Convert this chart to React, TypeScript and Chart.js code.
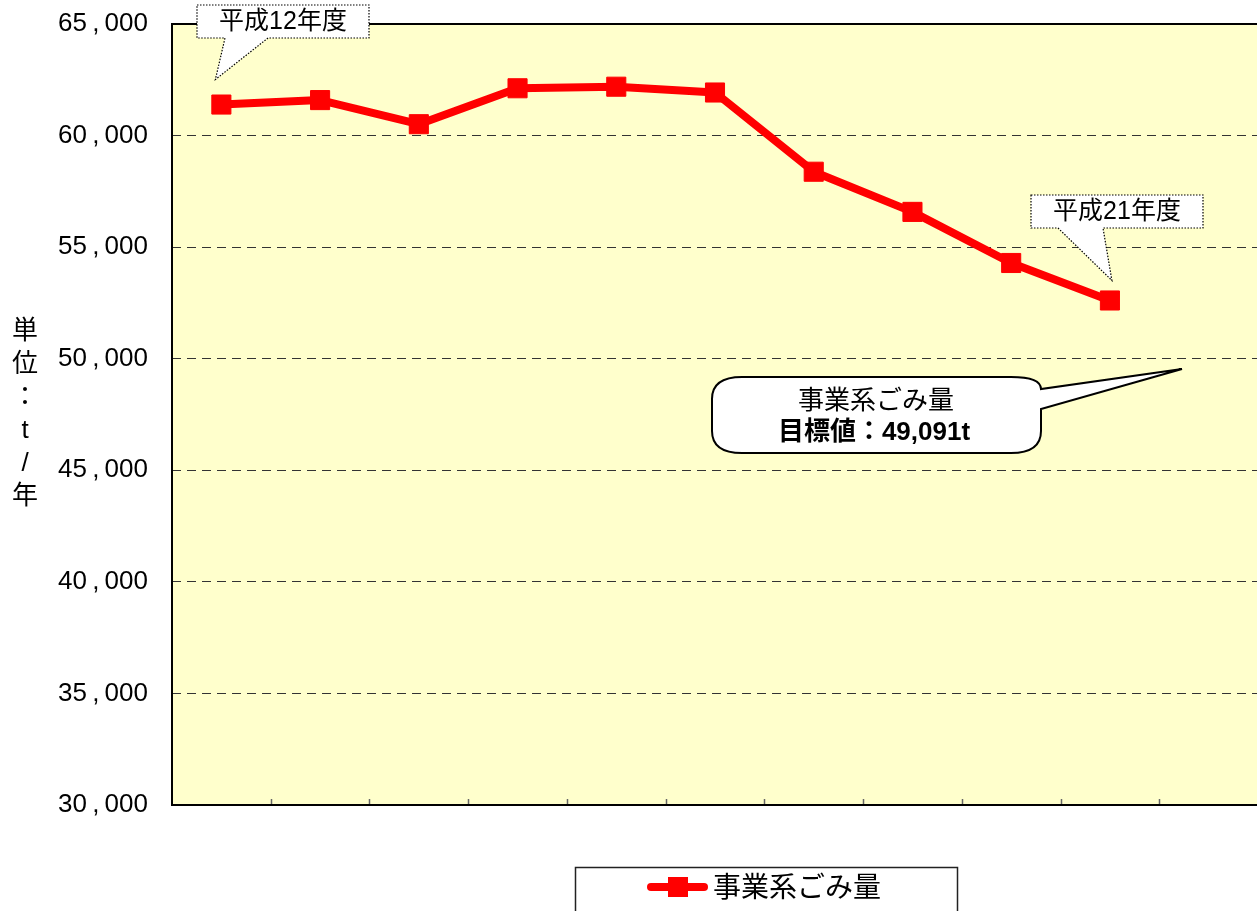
import React, { useEffect, useRef } from "react";
import { Chart, registerables } from "chart.js";

Chart.register(...registerables);

// ---- data ----
const categories = [
  "平成12年度", "平成13年度", "平成14年度", "平成15年度", "平成16年度",
  "平成17年度", "平成18年度", "平成19年度", "平成20年度", "平成21年度", "目標",
];
const wasteValues: (number | null)[] = [
  61390, 61590, 60510, 62120, 62190, 61930, 58380, 56580, 54290, 52610, null,
];
const seriesLabel = "事業系ごみ量";
const yMin = 30000;
const yMax = 65000;
const yStep = 5000;
const yTitleChars = ["単", "位", "：", "t", "/", "年"];
const startLabel = "平成12年度";
const endLabel = "平成21年度";
const targetLine1 = "事業系ごみ量";
const targetLine2 = "目標値：49,091t";

const FONT = '"Liberation Sans", "Noto Sans CJK JP", sans-serif';

const fmt = (v: number) => {
  const s = Math.round(v).toLocaleString("en-US");
  return s.replace(",", "\u2009,\u2009");
};

function calloutRect(
  ctx: CanvasRenderingContext2D,
  x1: number, y1: number, x2: number, y2: number,
  b1: number, b2: number, tip: [number, number]
) {
  ctx.save();
  ctx.beginPath();
  ctx.moveTo(x1, y1);
  ctx.lineTo(x2, y1);
  ctx.lineTo(x2, y2);
  ctx.lineTo(b2, y2);
  ctx.lineTo(tip[0], tip[1]);
  ctx.lineTo(b1, y2);
  ctx.lineTo(x1, y2);
  ctx.closePath();
  ctx.fillStyle = "#ffffff";
  ctx.fill();
  ctx.setLineDash([1.5, 1.5]);
  ctx.lineWidth = 1.2;
  ctx.strokeStyle = "#000";
  ctx.stroke();
  ctx.restore();
}

const decorPlugin = {
  id: "decor",
  beforeDraw(chart: any) {
    const { ctx, chartArea } = chart;
    ctx.save();
    ctx.fillStyle = "#FFFFCC";
    ctx.fillRect(chartArea.left, chartArea.top, chartArea.right - chartArea.left, chartArea.bottom - chartArea.top);
    ctx.restore();
  },
  afterDraw(chart: any) {
    const { ctx, chartArea } = chart;
    const xs = chart.scales.x;
    const ys = chart.scales.y;
    const { left, right, top, bottom } = chartArea;
    ctx.save();
    // inward tick marks at category boundaries
    const n = categories.length;
    const cw = (right - left) / n;
    ctx.strokeStyle = "#666";
    ctx.lineWidth = 1.5;
    for (let i = 1; i < n; i++) {
      const x = Math.round(left + i * cw) + 0.5;
      ctx.beginPath();
      ctx.moveTo(x, bottom - 6);
      ctx.lineTo(x, bottom);
      ctx.stroke();
    }
    // borders: top, left, bottom
    ctx.strokeStyle = "#000";
    ctx.lineWidth = 2;
    ctx.beginPath();
    ctx.moveTo(right + 2, top);
    ctx.lineTo(left, top);
    ctx.lineTo(left, bottom);
    ctx.lineTo(right + 2, bottom);
    ctx.stroke();

    // y title, stacked characters
    ctx.fillStyle = "#000";
    ctx.font = `26px ${FONT}`;
    ctx.textAlign = "center";
    ctx.textBaseline = "middle";
    yTitleChars.forEach((c, i) => {
      ctx.fillText(c, 25, 332 + i * 33);
    });

    // start callout
    const p0x = xs.getPixelForValue(0);
    const p0y = ys.getPixelForValue(wasteValues[0] as number);
    const t1: [number, number] = [p0x - 6, p0y - 25];
    calloutRect(ctx, 197, 5, 369, 38, 225, 268, t1);
    ctx.fillStyle = "#000";
    ctx.font = `25px ${FONT}`;
    ctx.fillText(startLabel, 283, 22);

    // end callout
    const p9x = xs.getPixelForValue(9);
    const p9y = ys.getPixelForValue(wasteValues[9] as number);
    const t2: [number, number] = [p9x + 2, p9y - 20];
    calloutRect(ctx, 1031, 195, 1203, 228, 1058, 1103, t2);
    ctx.fillStyle = "#000";
    ctx.font = `25px ${FONT}`;
    ctx.fillText(endLabel, 1117, 212);

    // target callout (rounded wedge)
    const x1 = 712, y1 = 377, x2 = 1041, y2 = 453;
    const rx = 30, ry = 22;
    const tip: [number, number] = [1182, 369];
    ctx.beginPath();
    ctx.moveTo(x1 + rx, y1);
    ctx.lineTo(x2 - rx, y1);
    ctx.quadraticCurveTo(x2, y1, x2, y1 + 12);
    ctx.lineTo(tip[0], tip[1]);
    ctx.lineTo(x2, y1 + 32);
    ctx.lineTo(x2, y2 - ry);
    ctx.quadraticCurveTo(x2, y2, x2 - rx, y2);
    ctx.lineTo(x1 + rx, y2);
    ctx.quadraticCurveTo(x1, y2, x1, y2 - ry);
    ctx.lineTo(x1, y1 + ry);
    ctx.quadraticCurveTo(x1, y1, x1 + rx, y1);
    ctx.closePath();
    ctx.fillStyle = "#fff";
    ctx.fill();
    ctx.lineWidth = 2;
    ctx.strokeStyle = "#000";
    ctx.stroke();
    ctx.fillStyle = "#000";
    ctx.font = `26px ${FONT}`;
    ctx.fillText(targetLine1, 876, 402);
    ctx.font = `bold 26px ${FONT}`;
    ctx.fillText(targetLine2, 874, 433);

    // legend
    ctx.lineWidth = 1.5;
    ctx.strokeStyle = "#222";
    ctx.strokeRect(575.5, 867.5, 382, 60);
    ctx.strokeStyle = "#FF0000";
    ctx.lineWidth = 8;
    ctx.lineCap = "round";
    ctx.beginPath();
    ctx.moveTo(651, 887);
    ctx.lineTo(704, 887);
    ctx.stroke();
    ctx.fillStyle = "#FF0000";
    ctx.fillRect(668, 877, 20, 20);
    ctx.fillStyle = "#000";
    ctx.font = `28px ${FONT}`;
    ctx.textAlign = "left";
    ctx.fillText(seriesLabel, 713, 889);
    ctx.restore();
  },
};

export default function App() {
  const ref = useRef<HTMLCanvasElement | null>(null);
  useEffect(() => {
    if (!ref.current) return;
    const chart = new Chart(ref.current, {
      type: "line",
      data: {
        labels: categories,
        datasets: [
          {
            label: seriesLabel,
            data: wasteValues,
            borderColor: "#FF0000",
            backgroundColor: "#FF0000",
            borderWidth: 8,
            borderJoinStyle: "round",
            borderCapStyle: "round",
            pointStyle: "rect",
            pointRadius: 13.5,
            pointBackgroundColor: "#FF0000",
            pointBorderColor: "#FF0000",
            pointBorderWidth: 1,
            tension: 0,
            spanGaps: false,
          },
        ],
      },
      options: {
        responsive: false,
        animation: false,
        devicePixelRatio: 1,
        layout: { autoPadding: false, padding: { left: 0, right: 2, top: 24, bottom: 106 } },
        plugins: {
          legend: { display: false },
          tooltip: { enabled: false },
        },
        scales: {
          x: {
            type: "category",
            offset: true,
            display: false,
          },
          y: {
            min: yMin,
            max: yMax,
            afterFit: (s: any) => {
              s.width = 172;
              s.paddingTop = 0;
              s.paddingBottom = 0;
            },
            ticks: {
              stepSize: yStep,
              padding: 24,
              color: "#000",
              font: { family: FONT, size: 26 },
              callback: (v: any) => fmt(Number(v)),
            },
            grid: {
              color: "#333",
              lineWidth: 1,
              drawTicks: false,
            },
            border: { display: false, dash: [9, 6] },
          },
        },
      },
      plugins: [decorPlugin],
    });
    return () => chart.destroy();
  }, []);
  return (
    <div
      style={{
        position: "fixed",
        left: 0,
        top: 0,
        width: 1257,
        height: 911,
        overflow: "hidden",
        background: "#fff",
      }}
    >
      <canvas ref={ref} width={1260} height={911} style={{ display: "block" }} />
    </div>
  );
}
